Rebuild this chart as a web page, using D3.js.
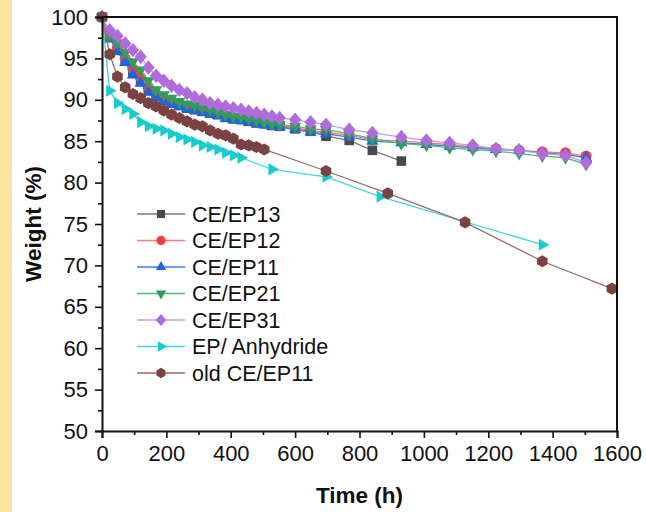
<!DOCTYPE html>
<html>
<head>
<meta charset="utf-8">
<script src="https://cdn.jsdelivr.net/npm/d3@7"></script>
<style>
  html, body { margin: 0; padding: 0; background: #fff; }
  svg { display: block; font-family: Arial, "Liberation Sans", sans-serif; }
</style>
</head>
<body>
<div id="chart"></div>
<script>
// time grids (h)
const tMain = [0, 24, 48, 72, 96, 120, 144, 168, 192, 216, 240, 264, 288, 312, 336, 360, 384, 408, 432, 456,
  480, 504, 528, 552, 600, 648, 696, 768, 840, 930, 1008, 1080, 1152, 1224, 1296, 1368, 1440, 1504];
const tEP13 = tMain.slice(0, 30);
const tOld = [0, 24, 48, 72, 96, 120, 144, 168, 192, 216, 240, 264, 288, 312, 336, 360, 384, 408, 432, 456,
  480, 504, 696, 888, 1128, 1368, 1584];
const tAnh = [0, 24, 48, 72, 96, 120, 144, 168, 192, 216, 240, 264, 288, 312, 336, 360, 384, 408, 432,
  528, 696, 864, 1368];

// weight (%)
const wEP13 = [100, 97.5, 96.0, 94.7, 93.2, 92.2, 91.1, 90.4, 89.9, 89.6, 89.3, 89.0, 88.8, 88.6, 88.4, 88.2,
  87.9, 87.7, 87.6, 87.4, 87.2, 87.1, 86.9, 86.8, 86.5, 86.2, 85.6, 85.1, 83.9, 82.6];
const wEP12 = [100, 97.6, 96.3, 95.0, 93.7, 92.7, 91.5, 90.7, 90.1, 89.8, 89.5, 89.2, 89.0, 88.8, 88.6, 88.4,
  88.1, 87.9, 87.7, 87.5, 87.3, 87.2, 87.0, 86.9, 86.6, 86.3, 86.1, 85.7, 85.2, 85.0, 84.8, 84.6, 84.3, 84.1,
  83.9, 83.7, 83.6, 83.2];
const wEP11 = [100, 97.4, 95.8, 94.5, 93.0, 92.0, 90.9, 90.3, 89.8, 89.5, 89.2, 88.9, 88.7, 88.5, 88.3, 88.1,
  87.7, 87.6, 87.5, 87.3, 87.1, 87.0, 86.8, 86.7, 86.4, 86.1, 85.9, 85.5, 85.0, 84.8, 84.6, 84.4, 84.2, 84.0,
  83.9, 83.6, 83.4, 83.0];
const wEP21 = [100, 97.7, 96.9, 95.7, 94.6, 93.6, 92.3, 91.2, 90.6, 90.2, 89.8, 89.5, 89.3, 89.0, 88.8, 88.5,
  88.2, 88.0, 87.9, 87.7, 87.5, 87.3, 87.1, 87.0, 86.8, 86.5, 86.4, 85.9, 85.3, 84.7, 84.5, 84.2, 84.0, 83.8,
  83.5, 83.2, 83.0, 82.2];
const wEP31 = [100, 98.4, 97.7, 96.8, 96.0, 95.2, 93.9, 92.9, 92.3, 91.7, 91.2, 90.8, 90.3, 90.0, 89.6, 89.4,
  89.2, 89.0, 88.8, 88.6, 88.4, 88.2, 88.0, 87.8, 87.6, 87.3, 87.0, 86.4, 86.0, 85.5, 85.1, 84.8, 84.5, 84.1,
  83.9, 83.5, 83.3, 82.4];
const wAnh = [100, 91.1, 89.6, 88.9, 88.3, 87.3, 86.8, 86.5, 86.3, 85.9, 85.5, 85.2, 84.9, 84.5, 84.3, 84.0,
  83.6, 83.3, 83.0, 81.6, 80.7, 78.3, 72.5];
const wOld = [100, 95.5, 92.8, 91.5, 90.7, 90.2, 89.6, 89.2, 88.7, 88.2, 87.8, 87.4, 87.0, 86.8, 86.3, 85.9,
  85.7, 85.3, 84.6, 84.5, 84.3, 84.0, 81.4, 78.7, 75.2, 70.5, 67.2];

const seriesNames = ["CE/EP13", "CE/EP12", "CE/EP11", "CE/EP21", "CE/EP31", "EP/ Anhydride", "old CE/EP11"];
const xTicks = [0, 200, 400, 600, 800, 1000, 1200, 1400, 1600];
const yTicks = [50, 55, 60, 65, 70, 75, 80, 85, 90, 95, 100];

const series = [
  { name: seriesNames[0], t: tEP13, w: wEP13, shape: "square",   fill: "#4a4a4a", line: "#7a7a7a" },
  { name: seriesNames[1], t: tMain, w: wEP12, shape: "circle",   fill: "#fb3b3b", line: "#f57a7a" },
  { name: seriesNames[2], t: tMain, w: wEP11, shape: "triUp",    fill: "#1f66db", line: "#3d7fe6" },
  { name: seriesNames[3], t: tMain, w: wEP21, shape: "triDown",  fill: "#2e9e5b", line: "#55b97c" },
  { name: seriesNames[4], t: tMain, w: wEP31, shape: "diamond",  fill: "#b06cdc", line: "#c79be8" },
  { name: seriesNames[5], t: tAnh,  w: wAnh,  shape: "triRight", fill: "#17cccc", line: "#3dd9d9" },
  { name: seriesNames[6], t: tOld,  w: wOld,  shape: "hexagon",  fill: "#7a4242", line: "#9c6b6b" }
];

const W = 646, H = 512;
const margin = { left: 102, right: 29, top: 17, bottom: 81 };
const width = W - margin.left - margin.right;
const height = H - margin.top - margin.bottom;

const svg = d3.select("#chart").append("svg")
  .attr("width", W).attr("height", H);

svg.append("rect").attr("width", W).attr("height", H).attr("fill", "#fff");
svg.append("rect").attr("width", 12).attr("height", H).attr("fill", "#ffe3a3");

const g = svg.append("g").attr("transform", `translate(${margin.left},${margin.top})`);

const x = d3.scaleLinear().domain([0, 1600]).range([0, width]);
const y = d3.scaleLinear().domain([50, 100]).range([height, 0]);

// polygon marker path, r = circumradius, rot = start angle
function poly(n, r, rot) {
  const pts = d3.range(n).map(i => {
    const a = rot + i * 2 * Math.PI / n;
    return [r * Math.cos(a), r * Math.sin(a)];
  });
  return "M" + pts.map(p => p.join(",")).join("L") + "Z";
}

function markerPath(shape, k) {
  switch (shape) {
    case "square": return `M${-4.8 * k},${-4.8 * k}h${9.6 * k}v${9.6 * k}h${-9.6 * k}Z`;
    case "circle": return d3.arc()({ innerRadius: 0, outerRadius: 5.5 * k, startAngle: 0, endAngle: 2 * Math.PI });
    case "triUp": return poly(3, 7 * k, -Math.PI / 2);
    case "triDown": return poly(3, 7 * k, Math.PI / 2);
    case "triRight": return poly(3, 7 * k, 0);
    case "diamond": return `M0,${-7.2 * k}L${6.2 * k},0L0,${7.2 * k}L${-6.2 * k},0Z`;
    case "hexagon": return poly(6, 6.1 * k, -Math.PI / 2);
  }
}

const line = d3.line().x(d => x(d[0])).y(d => y(d[1]));

const plot = g.append("g");
series.forEach(s => {
  const pts = s.t.map((t, i) => [t, s.w[i]]);
  const sg = plot.append("g");
  sg.append("path")
    .attr("d", line(pts))
    .attr("fill", "none")
    .attr("stroke", s.line)
    .attr("stroke-width", 1.3);
  sg.selectAll("path.m")
    .data(pts)
    .join("path")
    .attr("class", "m")
    .attr("transform", d => `translate(${x(d[0])},${y(d[1])})`)
    .attr("d", markerPath(s.shape, 1))
    .attr("fill", s.fill);
});

// axes
const xAxis = g.append("g").attr("transform", `translate(0,${height})`)
  .call(d3.axisBottom(x).tickValues(xTicks).tickSize(7).tickPadding(7).tickFormat(d3.format("d")));
g.append("g").attr("transform", `translate(0,${height})`)
  .call(d3.axisBottom(x).tickValues(d3.range(100, 1600, 200)).tickSize(4).tickFormat(""))
  .select(".domain").remove();

const yAxis = g.append("g")
  .call(d3.axisLeft(y).tickValues(yTicks).tickSize(7).tickPadding(7).tickFormat(d3.format("d")));
g.append("g")
  .call(d3.axisLeft(y).tickValues(d3.range(52.5, 100, 5)).tickSize(4).tickFormat(""))
  .select(".domain").remove();

g.selectAll(".tick line").attr("stroke", "#111").attr("stroke-width", 1.6);
g.selectAll(".domain").attr("stroke", "#111").attr("stroke-width", 2);
g.selectAll(".tick text").attr("font-size", 22).attr("fill", "#111")
  .attr("font-family", "Arial, 'Liberation Sans', sans-serif");
xAxis.selectAll(".tick text").attr("dy", "0.72em");

// top and right frame
g.append("path")
  .attr("d", `M0,0H${width}V${height}`)
  .attr("fill", "none").attr("stroke", "#111").attr("stroke-width", 2);

// axis titles
svg.append("text")
  .attr("x", margin.left + width / 2).attr("y", 503)
  .attr("text-anchor", "middle")
  .attr("font-size", 22.5).attr("font-weight", "bold").attr("fill", "#111")
  .text("Time (h)");
svg.append("text")
  .attr("transform", `translate(41,${margin.top + height / 2}) rotate(-90)`)
  .attr("text-anchor", "middle")
  .attr("font-size", 22.5).attr("font-weight", "bold").attr("fill", "#111")
  .text("Weight (%)");

// legend
const legend = svg.append("g").attr("transform", "translate(137,214)");
const row = legend.selectAll("g")
  .data(series)
  .join("g")
  .attr("transform", (d, i) => `translate(0,${i * 26.5})`);
row.append("line")
  .attr("x1", 0).attr("x2", 48).attr("y1", 0).attr("y2", 0)
  .attr("stroke", d => d.line).attr("stroke-width", 1.3);
row.append("path")
  .attr("transform", "translate(24,0)")
  .attr("d", d => markerPath(d.shape, 0.85))
  .attr("fill", d => d.fill);
row.append("text")
  .attr("x", 55).attr("dy", "0.36em")
  .attr("font-size", 21.5).attr("fill", "#111")
  .text(d => d.name);
</script>
</body>
</html>
